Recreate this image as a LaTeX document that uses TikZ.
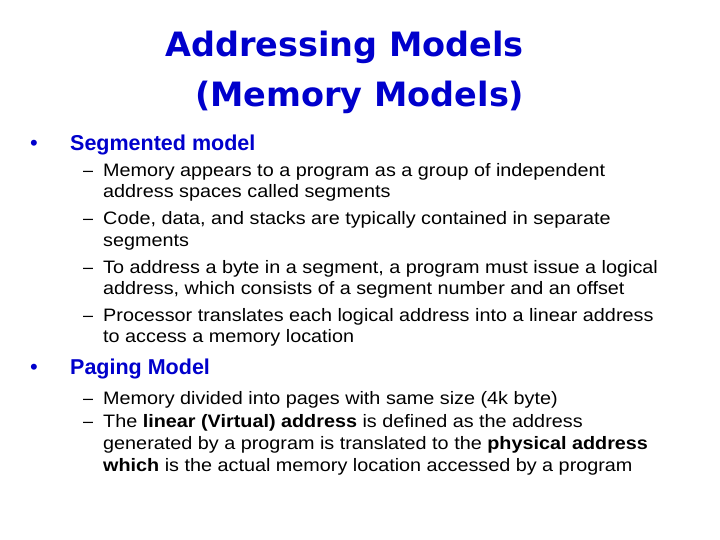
\documentclass[tikz,border=0pt]{standalone}
\usepackage{fontspec}
\setmainfont{Liberation Sans}
\newfontfamily\ttlfont{DejaVu Sans}
\definecolor{ttlblue}{RGB}{0,0,204}
\begin{document}
\begin{tikzpicture}[x=1pt,y=-1pt,
  ttl/.style={anchor=base west,inner sep=0,font=\ttlfont\bfseries\fontsize{33.5}{36}\selectfont,text=ttlblue},
  head/.style={anchor=base west,inner sep=0,font=\bfseries\fontsize{21.5}{24}\selectfont,text=ttlblue},
  bul/.style={anchor=base west,inner sep=0,font=\fontsize{22}{24}\selectfont,text=ttlblue},
  dsh/.style={anchor=base west,inner sep=0,font=\fontsize{18}{20}\selectfont},
  body/.style={anchor=base west,inner sep=0,font=\fontsize{18}{20}\selectfont,xscale=1.1}]
\useasboundingbox[fill=white] (0,0) rectangle (720,540);
\node[ttl] (t1) at (165,57) {Addressing Models};
\node[ttl] (t2) at (195,107) {(Memory Models)};
\node[bul] (b1) at (30,151) {•};
\node[head] (h1) at (70,151) {Segmented model};
\node[dsh] (d1) at (83,177) {–};
\node[body] (l1) at (103,177) {Memory appears to a program as a group of independent};
\node[body] (l2) at (103,198) {address spaces called segments};
\node[dsh] (d2) at (83,225) {–};
\node[body] (l3) at (103,225) {Code, data, and stacks are typically contained in separate};
\node[body] (l4) at (103,246) {segments};
\node[dsh] (d3) at (83,273) {–};
\node[body] (l5) at (103,273) {To address a byte in a segment, a program must issue a logical};
\node[body] (l6) at (103,294) {address, which consists of a segment number and an offset};
\node[dsh] (d4) at (83,321) {–};
\node[body] (l7) at (103,321) {Processor translates each logical address into a linear address};
\node[body] (l8) at (103,342) {to access a memory location};
\node[bul] (b2) at (30,374) {•};
\node[head] (h2) at (70,374) {Paging Model};
\node[dsh] (d5) at (83,404) {–};
\node[body] (l9) at (103,404) {Memory divided into pages with same size (4k byte)};
\node[dsh] (d6) at (83,427) {–};
\node[body] (l10) at (103,427) {The \textbf{linear (Virtual) address} is defined as the address};
\node[body] (l11) at (103,449) {generated by a program is translated to the \textbf{physical address}};
\node[body] (l12) at (103,471) {\textbf{which} is the actual memory location accessed by a program};
\end{tikzpicture}
\end{document}
